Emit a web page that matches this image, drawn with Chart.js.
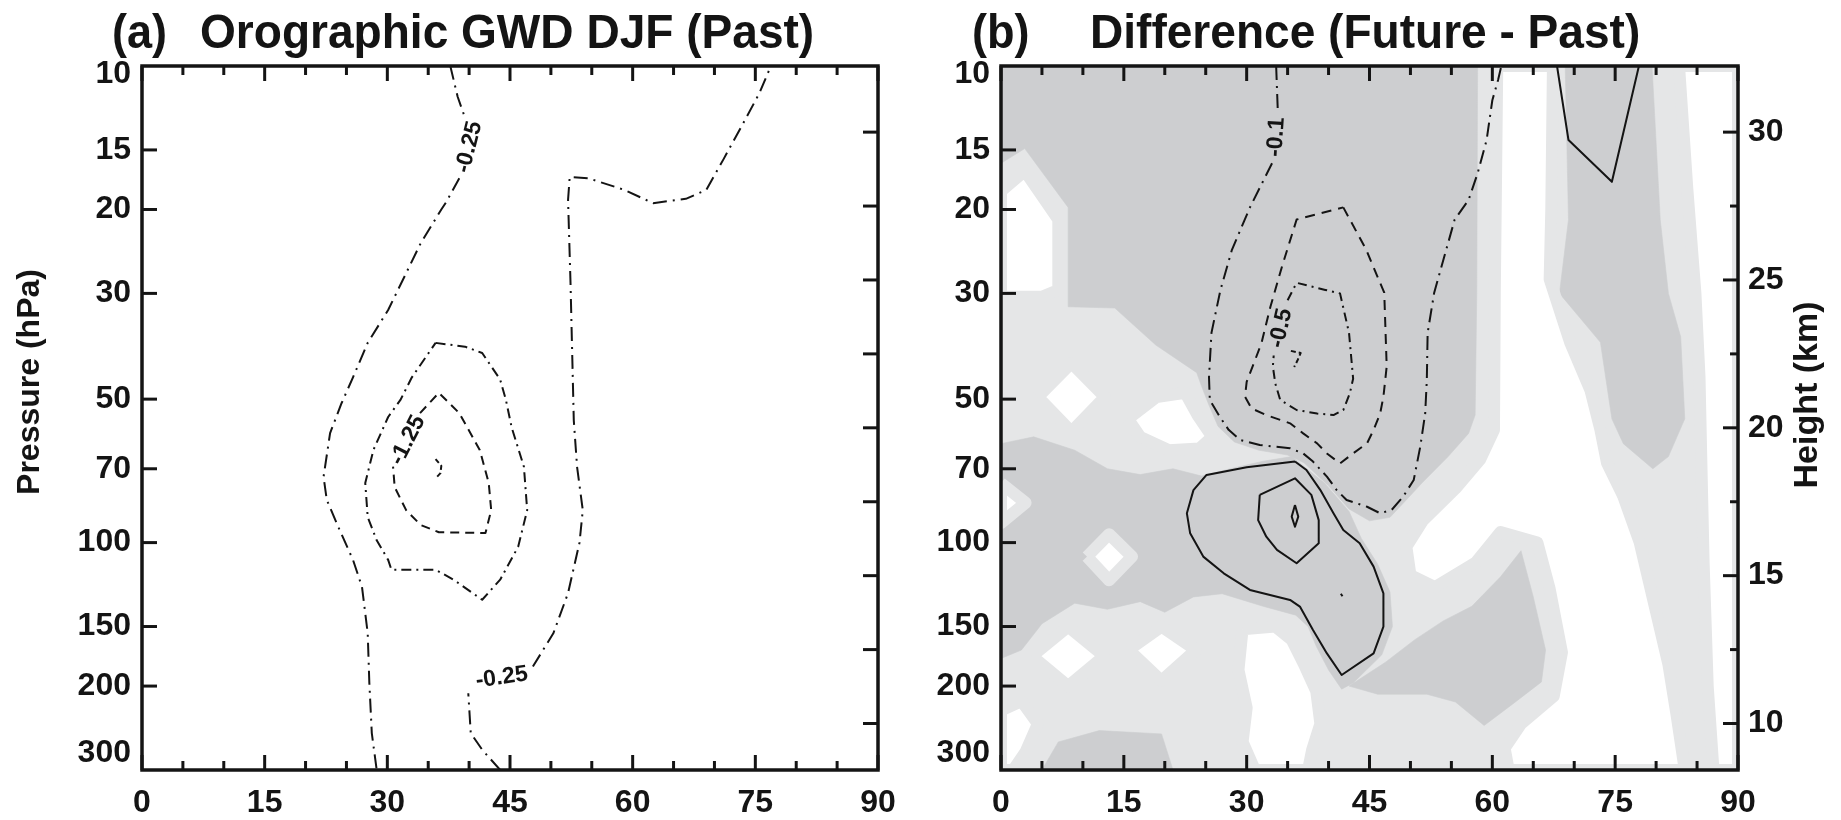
<!DOCTYPE html>
<html><head><meta charset="utf-8">
<script src="https://cdn.jsdelivr.net/npm/chart.js@4.4.1/dist/chart.umd.min.js"></script>
<style>
html,body{margin:0;padding:0;background:#fff;width:1841px;height:820px;overflow:hidden}
#wa{position:absolute;left:0;top:0;width:920px;height:820px}
#wb{position:absolute;left:920px;top:0;width:921px;height:820px}
canvas{display:block}
</style></head><body>
<div id="wa"><canvas id="ca" width="920" height="820"></canvas></div>
<div id="wb"><canvas id="cb" width="921" height="820"></canvas></div>
<script>
// ---------- axes ----------
const latTicks = [0,15,30,45,60,75,90];
const latTickLabels = ['0','15','30','45','60','75','90'];
const latMinorTicks = [5,10,20,25,35,40,50,55,65,70,80,85];
const pressureTicks = [10,15,20,30,50,70,100,150,200,300];
const pressureTickLabels = ['10','15','20','30','50','70','100','150','200','300'];
const heightTicksMajor = [10,15,20,25,30];
const heightTickLabels = ['10','15','20','25','30'];
const heightTicksMinor = [12.5,17.5,22.5,27.5];
const P_MIN = 10, P_MAX = 300, SCALE_HEIGHT_KM = 7;

// ---------- panel (a) contours  [latitude, hPa], null = label gap ----------
const a_m025_west = [[37.7,10],[38.6,11.6],[39.4,12.7],null,[38.8,17.2],[37.2,19.3],[36.6,20],[34.1,23.5],[32.3,27.2],[30.1,32.5],[27.6,38.1],[25.8,45],[24.4,51],[23.0,58.9],[22.2,72.8],[22.6,81.4],[24.0,92.7],[25.8,108.7],[26.9,123.8],[27.6,154.9],[27.8,197],[28.1,251],[28.7,300]];
const a_m025_east = [[43.8,300],[41.6,272],[40.2,251],[39.9,207],null,[47.8,182],[50.3,155],[52.1,127.6],[53.5,100],[53.9,85.5],[53.2,69.3],[52.8,55.4],[52.4,28.5],[52.1,19.1],[52.3,17.1],[54.6,17.2],[59.0,18.2],[62.5,19.4],[66.5,19.0],[69.0,18.2],[71.1,15.7],[73.3,13.4],[75.5,11.4],[76.9,10]];
const a_m075 = [[35.9,38.1],[39.5,38.8],[41.6,40.0],[43.8,45.5],[44.5,50.2],[45.2,57.3],[46.7,69.3],[47.1,85.5],[46.0,102],[43.8,119.6],[41.6,131.8],[38.1,119.6],[35.9,114],[30.5,114],[30.1,108.7],[28.7,98.9],[27.6,88.4],[27.3,75],[28.3,63.9],[30.1,54.5],[31.6,50.2],[33.0,45],[35.9,38.1]];
const a_m125 = [[34.0,53.5],[36.3,48.5],[38.8,53.5],[41.3,63.9],[42.4,75],[42.7,85.5],[42.0,95.5],[36.3,95.1],[34.1,91.9],[32.3,85.5],[30.9,76.5],[30.7,69.3]];
const a_m175 = [[35.9,66.8],[36.6,69],[36.5,71.5],[35.9,73.3]];
const a_labels = [
  {text:'-0.25', lat:40.0, p:14.8, angle:-76},
  {text:'-1.25', lat:32.5, p:61.0, angle:-63},
  {text:'-0.25', lat:44.0, p:192, angle:-8}
];

// ---------- panel (b) contours ----------
const b_m01 = [[33.6,10],[33.8,12.4],null,[33.1,16.0],[30.4,19.8],[28.2,24.3],[26.8,29.5],[25.7,36.3],[25.4,45.0],[25.5,50.2],[26.7,54.4],[27.8,58.0],[29.2,60.9],[31.6,62.4],[35.3,63.4],[36.9,65.0],[38.1,67.6],[39.8,72.7],[41.0,77.6],[42.2,81.4],[44.7,84.1],[46.3,86.8],[47.7,85.4],[49.1,80.1],[50.4,73.9],[51.2,62.9],[51.8,53.6],[52.0,45.6],[52.1,36.3],[52.9,29.9],[55.4,21.0],[57.1,19.1],[58.2,16.8],[59.3,14.3],[60.0,11.8],[60.7,10.7],[61.1,10]];
const b_m03 = [[41.8,19.8],[44.6,24.3],[46.8,29.9],[47.1,42.7],[46.7,49.4],[46.3,53.6],[45.5,58.0],[44.7,61.9],[43.0,65.0],[41.4,68.2],[39.8,65.0],[38.6,61.9],[36.9,59.0],[35.3,56.2],[32.4,54.0],[30.6,52.3],[29.8,49.4],[30.0,46.0],[31.8,38.2],[32.9,32.0],[34.3,26.4],[36.1,21.0],[41.8,19.8]];
const b_m05 = [[35.0,31.0],[36.1,28.5],[39.6,29.5],[41.4,30.0],[42.5,36.3],[43.0,45.3],[42.6,48.6],[41.8,52.7],[40.6,54.0],[38.6,53.6],[36.1,52.7],[34.1,50.2],[33.5,46.4],[33.2,42.7],[33.3,40.5]];
const b_m07 = [[35.4,39.6],[36.6,40.0],[36.2,41.5],[35.8,42.8]];
const b_p01 = [[35.9,67.6],[30.0,69.5],[25.1,72.1],[23.5,77.6],[22.7,86.8],[23.1,95.6],[24.7,107.0],[27.2,116.0],[30.4,125.7],[35.3,131.9],[36.5,136.2],[38.1,152.5],[39.8,170.8],[41.6,189.6],[45.5,170.8],[46.7,150.1],[46.7,127.8],[45.5,112.3],[43.8,100.3],[41.8,94.1],[40.6,86.8],[39.0,77.6],[37.3,70.4],[35.9,67.6]];
const b_p03 = [[31.6,79.4],[35.9,73.3],[37.9,79.4],[38.8,89.7],[38.8,100.3],[36.1,110.5],[33.7,103.6],[32.4,97.2],[31.4,89.7],[31.6,79.4]];
const b_p05 = [[35.9,83.4],[36.3,88.2],[35.9,92.6],[35.5,88.2],[35.9,83.4]];
const b_p01_dot = [[41.5,128],[41.7,129.6]];
const b_p01_north = [[67.9,10],[69.3,14.3],[74.6,17.5],[77.9,10]];
const b_labels = [
  {text:'-0.1', lat:33.6, p:14.1, angle:-86},
  {text:'-0.5', lat:34.2, p:35.5, angle:-77}
];

// ---------- panel (b) shading polygons [latitude, hPa] ----------
const shadeBase = [[0,10],[90,10],[90,300],[0,300]];
const dark1 = [[0,10],[58.2,10],[58.1,30],[57.9,54],[57.1,59],[54.6,66],[51.4,75],[49.6,81],[47.5,88.5],[45,90],[42.5,85],[40,76],[37,68],[35,65.5],[31.5,64],[28.5,61.5],[26.5,57],[25.3,51],[24.5,47],[23.9,44],[18.9,38.5],[13.9,32.2],[8.2,32],[8.2,19.8],[2.9,14.9],[0,16]];
const dark2 = [[0,62],[4,60],[9,64],[13,70],[17,72],[21,70],[24.5,72.5],[28,70],[32,67.5],[35.5,66],[39.5,75],[42.5,86],[44,98],[46,111],[47.5,127],[47.8,150],[46.5,172],[43,197],[41.6,203],[40,185],[38.5,165],[37.5,150],[36,142],[32,136],[27,128],[23.5,130],[20,140],[17,133],[13,138],[9,134],[5,148],[2.5,168],[0,175]];
const dark3 = [[42.5,200],[47,178],[50.5,160],[54,146],[57.5,136],[61,118],[63.5,104],[65,130],[66.5,168],[66,196],[62.5,218],[59,242],[55.5,216],[52,208],[46,208]];
const dark4 = [[68.9,10],[79.5,10],[80.5,21],[81.5,30],[83,37],[83.5,55],[81.5,66],[79.6,70],[76,62],[74.6,55],[73.2,38],[68.2,30],[69.3,21]];
const dark5 = [[5,300],[7,262],[12,248],[19.6,252],[21,300]];
const white1 = [[60.6,10],[67.4,10],[67.2,20],[67.0,28],[69.5,38],[72,48],[73.2,58],[74,68],[76,80],[78,100],[80,140],[81.5,180],[82.5,230],[83.5,300],[62,300],[61.5,270],[63.5,240],[67.5,210],[68.5,170],[67,125],[65.5,100],[61,95],[58,110],[53,124],[50,117],[49.5,102],[51.5,90],[55.5,77],[58.5,67],[60.2,58],[60.3,30]];
const white2 = [[82.8,10],[90,10],[90,300],[87,300],[86.3,200],[85.8,110],[85.5,65],[85.3,45],[84.8,30],[83.8,18]];
const white3 = [[0,18.3],[2.9,16.6],[7.0,21],[7.0,29.5],[5,30.5],[0,30.5]];
const white4 = [[4.5,49.5],[8.6,42],[12.7,49.5],[8.6,58.5]];
const white5 = [[15.5,55],[19,49.5],[22.5,48.5],[24,54],[25.8,60],[24.2,63.5],[20.5,64],[17,60]];
const white6 = [[0,75],[3,82.5],[0,91]];
const white7 = [[10.5,107],[13.2,96],[16,107],[13.2,120]];
const white8 = [[3.8,173],[8.2,150],[12.6,173],[8.2,200]];
const white9 = [[15.6,168],[19.6,150],[23.8,168],[19.6,195]];
const white10 = [[29.5,152],[33.5,150],[35.5,160],[37,180],[38.5,205],[39,240],[38,272],[37.5,300],[31,300],[29.5,262],[30,222],[29,185]];
const white11 = [[0,225],[2.5,215],[4.5,240],[3,275],[1.5,300],[0,300]];

// ---------- styling ----------
const FF = '"Liberation Sans", Arial, Helvetica, sans-serif';
const INK = '#141414';
const LIGHT = '#e5e6e7';
const DARK = '#cdced0';
const TICK_SIZE = 32;
const H_MIN = SCALE_HEIGHT_KM * Math.log(1000 / P_MAX);
const H_MAX = SCALE_HEIGHT_KM * Math.log(1000 / P_MIN);

function toData(arr){
  const out = [];
  for (const v of arr){
    if (v === null){ const prev = out[out.length-1]; out.push({x: prev.x, y: null}); }
    else out.push({x: v[0], y: v[1]});
  }
  return out;
}
function lineDS(arr, dash, width){
  return {data: toData(arr), borderColor: INK, borderWidth: width || 2, borderDash: dash || [],
    fill: false, pointRadius: 0, pointHoverRadius: 0, tension: 0, spanGaps: false, clip: 0, order: 10,
    borderCapStyle: 'butt', borderJoinStyle: 'round'};
}
function polyDS(arr, color, order, ring){
  return {data: toData(arr.concat([arr[0]])), backgroundColor: color, borderColor: ring || color,
    borderWidth: ring ? 12 : 0.6, fill: 'shape', pointRadius: 0, pointHoverRadius: 0, tension: 0,
    clip: 0, order: order, borderJoinStyle: 'round'};
}

function yTickFont(c){
  const v = c.tick ? c.tick.value : 0;
  let lh = 1.2;
  if (v === P_MIN) lh = 0.5;
  else if (v === P_MAX) lh = 1.06;
  return {family: FF, size: TICK_SIZE, weight: 'bold', lineHeight: lh};
}
function yTickLabel(v){
  const i = pressureTicks.indexOf(v);
  const s = i >= 0 ? pressureTickLabels[i] : '';
  if (v === P_MIN) return ['', s];
  if (v === P_MAX) return [s, ''];
  return s;
}

const decor = {
  id: 'decor',
  afterDraw(chart, args, o){
    const {ctx, chartArea: ca, scales} = chart;
    const xs = scales.x, ys = scales.y, hs = scales.yR;
    ctx.save();
    // contour labels
    ctx.fillStyle = INK;
    ctx.font = 'bold 23px ' + FF;
    ctx.textAlign = 'center'; ctx.textBaseline = 'middle';
    for (const L of o.labels){
      ctx.save();
      ctx.translate(xs.getPixelForValue(L.lat), ys.getPixelForValue(L.p));
      ctx.rotate(L.angle * Math.PI / 180);
      ctx.fillText(L.text, 0, 0);
      ctx.restore();
    }
    // inward ticks
    ctx.strokeStyle = INK; ctx.lineWidth = 3; ctx.lineCap = 'butt';
    const seg = (x1,y1,x2,y2) => { ctx.beginPath(); ctx.moveTo(x1,y1); ctx.lineTo(x2,y2); ctx.stroke(); };
    for (const v of latTicks){ const px = xs.getPixelForValue(v); seg(px, ca.bottom, px, ca.bottom-15); seg(px, ca.top, px, ca.top+15); }
    for (const v of latMinorTicks){ const px = xs.getPixelForValue(v); seg(px, ca.bottom, px, ca.bottom-9); seg(px, ca.top, px, ca.top+9); }
    for (const v of pressureTicks){ if (v === P_MIN || v === P_MAX) continue; const py = ys.getPixelForValue(v); seg(ca.left, py, ca.left+15, py); }
    for (const v of heightTicksMajor){ const py = hs.getPixelForValue(v); seg(ca.right, py, ca.right-15, py); }
    for (const v of heightTicksMinor){ const py = hs.getPixelForValue(v); seg(ca.right, py, ca.right-o.minorLen, py); }
    // frame
    ctx.lineWidth = 3.5; ctx.lineJoin = 'miter';
    ctx.strokeRect(ca.left, ca.top, ca.right-ca.left, ca.bottom-ca.top);
    // titles
    ctx.fillStyle = INK; ctx.textAlign = 'left'; ctx.textBaseline = 'alphabetic';
    ctx.font = 'bold 49px ' + FF;
    ctx.save(); ctx.translate(o.tagX, 48); ctx.scale(0.92, 1); ctx.fillText(o.tag, 0, 0); ctx.restore();
    ctx.save(); ctx.translate(o.titleX, 48); ctx.scale(0.94, 1); ctx.fillText(o.title, 0, 0); ctx.restore();
    // axis title
    ctx.font = 'bold ' + o.axisTitleSize + 'px ' + FF; ctx.textAlign = 'center'; ctx.textBaseline = 'middle';
    ctx.save(); ctx.translate(o.axisTitleX, o.axisTitleY); ctx.rotate(-Math.PI/2); ctx.fillText(o.axisTitle, 0, 0); ctx.restore();
    ctx.restore();
  }
};

function makeChart(id, datasets, cfg){
  const tickFont = {family: FF, size: TICK_SIZE, weight: 'bold'};
  return new Chart(document.getElementById(id), {
    type: 'line',
    data: {datasets},
    options: {
      responsive: false, animation: false, devicePixelRatio: 1, events: [],
      layout: {padding: {top: 66, left: 0, right: 0, bottom: 0}},
      plugins: {legend: {display: false}, tooltip: {enabled: false}, title: {display: false}, decor: cfg.decor},
      scales: {
        x: {type: 'linear', position: 'bottom', min: 0, max: 90,
          afterBuildTicks: s => { s.ticks = latTicks.map(v => ({value: v})); },
          afterFit: s => { s.height = 50; },
          grid: {display: false, drawTicks: false}, border: {display: false},
          ticks: {autoSkip: false, maxRotation: 0, minRotation: 0, padding: 14, color: INK, font: tickFont,
            callback: (v) => { const i = latTicks.indexOf(v); return i >= 0 ? latTickLabels[i] : ''; }}},
        y: {type: 'logarithmic', position: 'left', reverse: true, min: P_MIN, max: P_MAX,
          afterBuildTicks: s => { s.ticks = pressureTicks.map(v => ({value: v})); },
          afterFit: s => { s.width = cfg.leftW; },
          grid: {display: false, drawTicks: false}, border: {display: false},
          ticks: {autoSkip: false, padding: 11, color: INK, font: yTickFont, callback: (v) => yTickLabel(v)}},
        yR: {type: 'linear', position: 'right', min: H_MIN, max: H_MAX,
          afterBuildTicks: s => { s.ticks = heightTicksMajor.map(v => ({value: v})); },
          afterFit: s => { s.width = cfg.rightW; },
          grid: {display: false, drawTicks: false}, border: {display: false},
          ticks: {display: cfg.showHeight, autoSkip: false, padding: 10, color: INK, font: tickFont,
            callback: (v) => { const i = heightTicksMajor.indexOf(v); return i >= 0 ? heightTickLabels[i] : ''; }}}
      }
    },
    plugins: [decor]
  });
}

// ---------- panel (a) ----------
const dsA = [
  lineDS(a_m025_west, [14,6,2,6]),
  lineDS(a_m025_east, [14,6,2,6]),
  lineDS(a_m075, [10,5,2,5]),
  lineDS(a_m125, [9,6]),
  lineDS(a_m175, [5,3])
];
makeChart('ca', dsA, {leftW: 142, rightW: 42, showHeight: false,
  decor: {labels: a_labels, tag: '(a)', tagX: 112, title: 'Orographic GWD DJF (Past)', titleX: 200,
    axisTitle: 'Pressure (hPa)', axisTitleX: 30, axisTitleY: 382, axisTitleSize: 32, minorLen: 15}});

// ---------- panel (b) ----------
const dsB = [
  polyDS(shadeBase, LIGHT, 100),
  polyDS(dark1, DARK, 90), polyDS(dark2, DARK, 90), polyDS(dark3, DARK, 90), polyDS(dark4, DARK, 90), polyDS(dark5, DARK, 90),
  polyDS(white1, '#ffffff', 80, LIGHT), polyDS(white2, '#ffffff', 80, LIGHT), polyDS(white3, '#ffffff', 80, LIGHT),
  polyDS(white4, '#ffffff', 80, LIGHT), polyDS(white5, '#ffffff', 80, LIGHT), polyDS(white6, '#ffffff', 80, LIGHT),
  polyDS(white7, '#ffffff', 80, LIGHT), polyDS(white8, '#ffffff', 80, LIGHT), polyDS(white9, '#ffffff', 80, LIGHT),
  polyDS(white10, '#ffffff', 80, LIGHT), polyDS(white11, '#ffffff', 80, LIGHT),
  lineDS(b_m01, [14,6,2,6]),
  lineDS(b_m03, [10,7]),
  lineDS(b_m05, [9,5,2,5]),
  lineDS(b_m07, [5,3]),
  lineDS(b_p01, [], 2), lineDS(b_p03, [], 2), lineDS(b_p05, [], 2), lineDS(b_p01_dot, [], 2), lineDS(b_p01_north, [], 2)
];
makeChart('cb', dsB, {leftW: 81, rightW: 103, showHeight: true,
  decor: {labels: b_labels, tag: '(b)', tagX: 52, title: 'Difference (Future - Past)', titleX: 170,
    axisTitle: 'Height (km)', axisTitleX: 888, axisTitleY: 395, axisTitleSize: 34, minorLen: 8}});
</script>
</body></html>
